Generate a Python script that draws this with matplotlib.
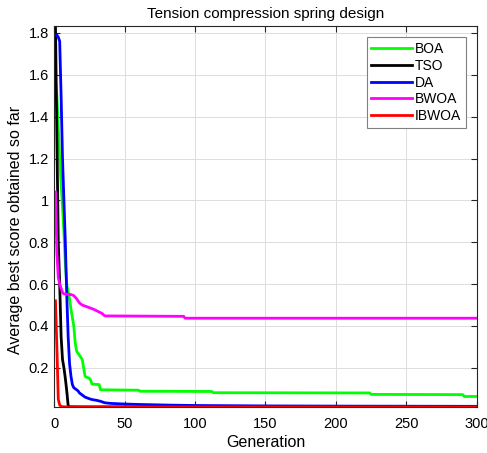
import numpy as np
import matplotlib
matplotlib.use('Agg')
import matplotlib.pyplot as plt

plt.rcParams['font.family'] = ['Liberation Sans', 'DejaVu Sans']

# convergence curves (generation, average best score)
boa_gen = [1, 2, 3, 4, 5, 6, 7, 8, 9, 10, 11, 12, 13, 14, 15, 16, 17, 18, 19, 20, 21, 22, 23, 25, 26, 27, 32, 33, 60, 61, 112, 113, 224, 225, 290, 291, 300]
boa_val = [1.57, 1.5, 1.35, 1.2, 1.08, 0.97, 0.85, 0.7, 0.6, 0.56, 0.53, 0.48, 0.44, 0.4, 0.32, 0.28, 0.27, 0.26, 0.25, 0.24, 0.2, 0.16, 0.155, 0.15, 0.14, 0.122, 0.12, 0.095, 0.093, 0.088, 0.087, 0.081, 0.08, 0.073, 0.072, 0.063, 0.063]

tso_gen = [1, 2, 3, 4, 5, 6, 7, 8, 9, 10, 11, 20, 300]
tso_val = [1.833, 1.3, 0.8, 0.6, 0.35, 0.24, 0.2, 0.15, 0.09, 0.02, 0.014, 0.0132, 0.0128]

da_gen = [1, 2, 3, 4, 5, 6, 7, 8, 9, 10, 11, 12, 13, 14, 15, 16, 17, 18, 20, 22, 24, 26, 28, 30, 33, 36, 40, 50, 60, 80, 100, 150, 200, 300]
da_val = [1.79, 1.79, 1.78, 1.76, 1.5, 1.2, 1.0, 0.8, 0.55, 0.35, 0.22, 0.16, 0.12, 0.105, 0.1, 0.095, 0.09, 0.08, 0.07, 0.06, 0.055, 0.05, 0.047, 0.045, 0.04, 0.033, 0.03, 0.027, 0.025, 0.022, 0.02, 0.018, 0.017, 0.016]

bwoa_gen = [1, 2, 3, 4, 5, 6, 7, 12, 14, 16, 18, 20, 24, 28, 31, 34, 36, 92, 93, 300]
bwoa_val = [1.04, 0.75, 0.63, 0.6, 0.58, 0.56, 0.553, 0.55, 0.545, 0.53, 0.51, 0.5, 0.49, 0.48, 0.47, 0.46, 0.448, 0.446, 0.437, 0.437]

ibwoa_gen = [1, 2, 3, 4, 5, 6, 10, 300]
ibwoa_val = [0.52, 0.3, 0.05, 0.022, 0.016, 0.014, 0.013, 0.0127]

fig = plt.figure(figsize=(4.87, 4.53), dpi=100)
ax = fig.add_axes([0.111, 0.1015, 0.868, 0.841])

ax.plot(boa_gen, boa_val, color='#00ff00', lw=2, label='BOA')
ax.plot(tso_gen, tso_val, color='black', lw=2, label='TSO')
ax.plot(da_gen, da_val, color='#0000ff', lw=2, label='DA')
ax.plot(bwoa_gen, bwoa_val, color='#ff00ff', lw=2, label='BWOA')
ax.plot(ibwoa_gen, ibwoa_val, color='#ff0000', lw=2, label='IBWOA')

ax.set_xlim(0, 300)
ax.set_ylim(0.0127, 1.833)
ax.set_xticks(np.arange(0, 301, 50))
yt = [0.2, 0.4, 0.6, 0.8, 1.0, 1.2, 1.4, 1.6, 1.8]
ax.set_yticks(yt)
ax.set_yticklabels(['0.2', '0.4', '0.6', '0.8', '1', '1.2', '1.4', '1.6', '1.8'])
ax.tick_params(direction='in', labelsize=10.5, length=4, color='#262626', top=True, right=True,
               labeltop=False, labelright=False)
ax.tick_params(axis='x', pad=7)
ax.grid(True, color='#dddddd', lw=0.7)
for s in ax.spines.values():
    s.set_color('#262626')
    s.set_linewidth(0.8)

ax.set_title('Tension compression spring design', fontsize=11)
ax.set_xlabel('Generation', fontsize=11.5, labelpad=3)
ax.set_ylabel('Average best score obtained so far', fontsize=11.5, labelpad=4)
ax.yaxis.label.set_y(0.465)  # label sits a bit low in the original

leg = ax.legend(loc='upper right', fontsize=10, handlelength=2.9, fancybox=False,
                framealpha=1, edgecolor='#808080', borderaxespad=0.8, labelspacing=0.2,
                handletextpad=0.2, borderpad=0.35)
leg.get_frame().set_linewidth(0.8)

fig.savefig('out.png', dpi=100)
